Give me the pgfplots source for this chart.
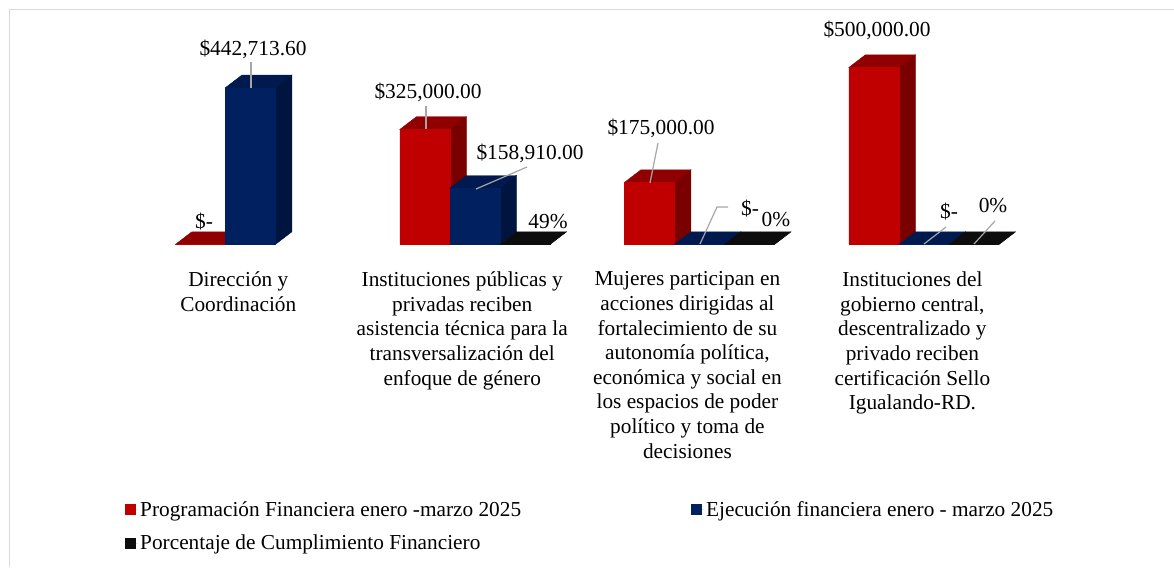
\documentclass[border=0pt]{standalone}
\usepackage{fontspec}
\setmainfont{Liberation Serif}
\usepackage{pgfplots}
\usepackage{pgfplotstable}
\pgfplotsset{compat=1.18}

\definecolor{rojo}{HTML}{C00000}
\definecolor{rojotop}{HTML}{900000}
\definecolor{rojoside}{HTML}{7A0000}
\definecolor{azul}{HTML}{002060}
\definecolor{azultop}{HTML}{001A50}
\definecolor{azulside}{HTML}{001440}
\definecolor{negro}{HTML}{0D0D0D}
\definecolor{guia}{HTML}{A6A6A6}
\definecolor{marco}{HTML}{D9D9D9}

\pgfplotstableread{
x y
0 0
1 325000
2 175000
3 500000
}\programado
\pgfplotstableread{
x y
0 442713.60
1 158910
2 0
3 0
}\ejecutado
\pgfplotstableread{
x y
1 0.49
2 0
3 0
}\porcentaje

% the 3D columns: front, top and side faces, offset in pt from the group centre
\pgfplotsset{
  caras/.style n args={4}{
    only marks, forget plot, scatter,
    mark=*, mark size=0pt, mark options={draw=none,fill=none},
    visualization depends on={y*0.000354 \as \alto},
    scatter/@pre marker code/.code={
      \begin{scope}[x=1pt,y=1pt]
        \fill[#2] ({#4-25},0) -- ({#4+25},0) -- ({#4+41.6},12.7) -- ({#4-8.4},12.7) -- cycle;
        \fill[#3] ({#4+25},0) -- ({#4+41.6},12.7) -- ({#4+41.6},12.7-\alto) -- ({#4+25},-\alto) -- cycle;
        \fill[#1] ({#4-25},0) rectangle ({#4+25},-\alto);
      \end{scope}
    },
    scatter/@post marker code/.code={},
  },
  frente/.style n args={2}{
    ybar, fill=#1, draw=#1!75!white, line width=0.5pt,
    bar width=50pt, bar shift=#2pt,
  },
}

\begin{document}
\begin{tikzpicture}
\useasboundingbox (0,0) rectangle (1174pt,567pt);
\begin{axis}[
  at={(0,0)}, anchor=south west,
  scale only axis, width=1174pt, height=567pt,
  xmin=-1.1149, xmax=4.1145,
  ymin=-911017, ymax=690678,
  axis x line=middle, axis y line=none,
  x axis line style={draw=none},
  tick style={draw=none},
  clip=false,
  ytick=\empty,
  xtick={-0.0535,0.944,1.947,2.949},
  xticklabels={
    {Dirección y\\Coordinación},
    {Instituciones públicas y\\privadas reciben\\asistencia técnica para la\\transversalización del\\enfoque de género},
    {Mujeres participan en\\acciones dirigidas al\\fortalecimiento de su\\autonomía política,\\económica y social en\\los espacios de poder\\político y toma de\\decisiones},
    {Instituciones del\\gobierno central,\\descentralizado y\\privado reciben\\certificación Sello\\Igualando-RD.}},
  xticklabel style={align=center, anchor=north, yshift=-25pt, inner sep=0pt,
    font=\fontsize{21.3}{24.6}\selectfont},
  legend cell align=left,
  legend columns=2,
  legend style={
    at={(axis description cs:0.1065,0.1195)}, anchor=north west,
    draw=none, fill=none, inner sep=0pt,
    font=\fontsize{21.3}{24}\selectfont, row sep=13pt,
    /tikz/every even column/.style={column sep=168pt},
  },
  legend image code/.code={
    \path[draw=none] (0pt,0pt) -- (13pt,0pt);
    \fill[#1,draw=none] (0pt,-5.5pt) rectangle (11pt,5.5pt);},
]
\addplot[frente={rojo}{-50}] table {\programado};
\addlegendentry{Programación Financiera enero -marzo 2025}
\addplot[caras={rojo}{rojotop}{rojoside}{-50}] table {\programado};
\addplot[frente={azul}{0}] table {\ejecutado};
\addlegendentry{Ejecución financiera enero - marzo 2025}
\addplot[caras={azul}{azultop}{azulside}{0}] table {\ejecutado};
\addplot[frente={negro}{50}] table {\porcentaje};
\addlegendentry{Porcentaje de Cumplimiento Financiero}
\addplot[caras={negro}{negro}{negro}{50}] table {\porcentaje};
\end{axis}

% frame, data labels and their leader lines, in pixels from the top left
\begin{scope}[x=1pt,y=-1pt,yshift=567pt,
    lab/.style={inner sep=0pt,font=\fontsize{21.4}{24}\selectfont},
    lin/.style={guia,line width=1.2pt}]
  \draw[marco,line width=1pt] (9.5,567) -- (9.5,9.5) -- (1174,9.5);
  \draw[lin] (251,62) -- (251,88);
  \draw[lin] (426,106) -- (426,129);
  \draw[lin] (527,167) -- (476,189);
  \draw[lin] (658,143) -- (650,183);
  \draw[lin] (728,207) -- (717,207) -- (700,244);
  \draw[lin] (946,227) -- (924,244);
  \draw[lin] (995,221) -- (974,244);
  \node[lab] at (253,49) {\$442,713.60};
  \node[lab] at (204,221.5) {\$-};
  \node[lab] at (428,92) {\$325,000.00};
  \node[lab] at (530,153) {\$158,910.00};
  \node[lab] at (548,221.5) {49\%};
  \node[lab] at (661,128) {\$175,000.00};
  \node[lab] at (750,208.5) {\$-};
  \node[lab] at (776,219.5) {0\%};
  \node[lab] at (877,30) {\$500,000.00};
  \node[lab] at (949,211.5) {\$-};
  \node[lab] at (993,205.5) {0\%};
\end{scope}
\end{tikzpicture}
\end{document}
